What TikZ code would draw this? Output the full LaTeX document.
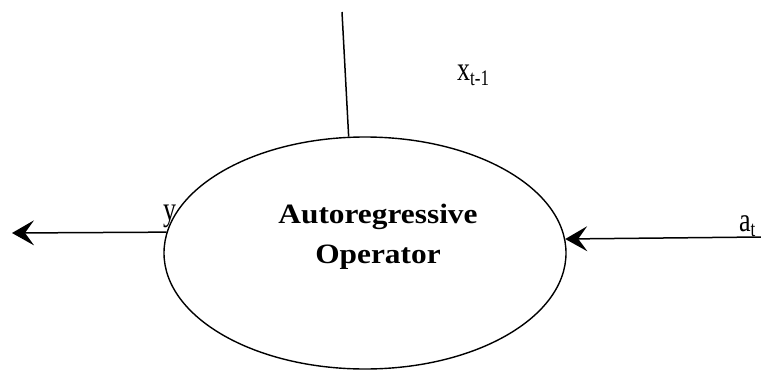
\documentclass[tikz,border=0pt]{standalone}
\usepackage{fontspec}
\setmainfont{Liberation Serif}
\usetikzlibrary{shapes.geometric,arrows.meta}
\tikzset{
  link/.style={line width=1.5pt, draw=black},
  arrowlink/.style={link, -{Stealth[length=22pt, width=25pt, inset=9pt]}},
  lbl/.style={font=\fontsize{26}{30}\selectfont, inner sep=0pt, anchor=base west},
}
\newcommand{\vstretch}[1]{\scalebox{1}[1.3]{#1}}
\begin{document}
\begin{tikzpicture}[x=1pt,y=-1pt]
\useasboundingbox (0,0) rectangle (761,370);
\node[lbl] (ylab) at (163,220) {\vstretch{y}};
\node[ellipse, draw, line width=1.4pt, fill=white, minimum width=402pt, minimum height=232pt, inner sep=0pt] (op) at (365,253) {};
\node[align=center, font=\bfseries\fontsize{28}{40}\selectfont, inner sep=0pt, anchor=base] (txt) at (378,263) {\scalebox{1.12}[1]{Autoregressive}\\\scalebox{1.12}[1]{Operator}};
\coordinate (topend) at (342,12);
\coordinate (yout) at (12,233);
\coordinate (ain) at (761,237);
\draw[link] (topend) -- (op.98);
\draw[arrowlink] (op.174) -- (yout);
\draw[arrowlink] (ain) -- (op.4.6);
\node[lbl] (xlab) at (457,80) {\vstretch{x}\raisebox{-5pt}{\fontsize{17}{17}\selectfont\vstretch{t-1}}};
\node[lbl] (alab) at (739,231) {\vstretch{a}\raisebox{-5pt}{\fontsize{17}{17}\selectfont\vstretch{t}}};
\end{tikzpicture}
\end{document}
